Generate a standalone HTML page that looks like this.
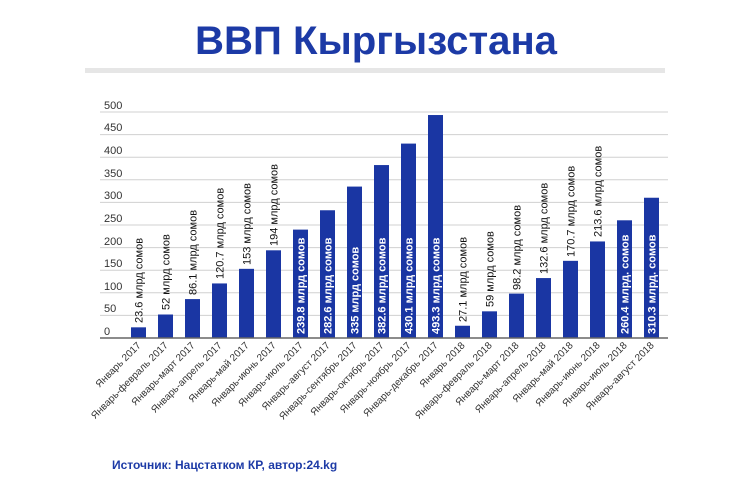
<!DOCTYPE html>
<html><head><meta charset="utf-8"><style>
html,body{margin:0;padding:0;background:#fff;}
svg{display:block;font-family:"Liberation Sans",Arial,sans-serif;}
</style></head><body>
<svg width="750" height="500" xmlns="http://www.w3.org/2000/svg">
<text x="376" y="54" text-anchor="middle" font-size="40" font-weight="bold" fill="#1c3aa6" textLength="362" lengthAdjust="spacingAndGlyphs">ВВП Кыргызстана</text>
<rect x="85" y="68" width="580" height="5" fill="#e6e6e6"/>
<g stroke="#d0d0d0" stroke-width="1">
<line x1="100" x2="668" y1="315.4" y2="315.4"/><line x1="100" x2="668" y1="292.8" y2="292.8"/>
<line x1="100" x2="668" y1="270.2" y2="270.2"/><line x1="100" x2="668" y1="247.6" y2="247.6"/>
<line x1="100" x2="668" y1="225" y2="225"/><line x1="100" x2="668" y1="202.4" y2="202.4"/>
<line x1="100" x2="668" y1="179.8" y2="179.8"/><line x1="100" x2="668" y1="157.2" y2="157.2"/>
<line x1="100" x2="668" y1="134.6" y2="134.6"/><line x1="100" x2="668" y1="112" y2="112"/>
</g>
<g font-size="11" fill="#333">
<text x="104" y="335">0</text><text x="104" y="312">50</text><text x="104" y="290">100</text>
<text x="104" y="267">150</text><text x="104" y="245">200</text><text x="104" y="222">250</text>
<text x="104" y="199">300</text><text x="104" y="177">350</text><text x="104" y="154">400</text>
<text x="104" y="131">450</text><text x="104" y="109">500</text>
</g>
<g fill="#1a36a3">
<rect x="131" y="327.33" width="15" height="10.67"/>
<rect x="158" y="314.5" width="15" height="23.5"/>
<rect x="185" y="299.08" width="15" height="38.92"/>
<rect x="212" y="283.44" width="15" height="54.56"/>
<rect x="239" y="268.84" width="15" height="69.16"/>
<rect x="266" y="250.31" width="15" height="87.69"/>
<rect x="293" y="229.61" width="15" height="108.39"/>
<rect x="320" y="210.26" width="15" height="127.74"/>
<rect x="347" y="186.58" width="15" height="151.42"/>
<rect x="374" y="165.06" width="15" height="172.94"/>
<rect x="401" y="143.59" width="15" height="194.41"/>
<rect x="428" y="115.03" width="15" height="222.97"/>
<rect x="455" y="325.75" width="15" height="12.25"/>
<rect x="482" y="311.33" width="15" height="26.67"/>
<rect x="509" y="293.61" width="15" height="44.39"/>
<rect x="536" y="278.06" width="15" height="59.94"/>
<rect x="563" y="260.84" width="15" height="77.16"/>
<rect x="590" y="241.45" width="15" height="96.55"/>
<rect x="617" y="220.3" width="15" height="117.7"/>
<rect x="644" y="197.74" width="15" height="140.26"/>
</g>
<g font-size="11" fill="#111">
<text transform="translate(142.5,323) rotate(-90)">23.6 млрд сомов</text>
<text transform="translate(169.5,310) rotate(-90)">52 млрд сомов</text>
<text transform="translate(196.5,295) rotate(-90)">86.1 млрд сомов</text>
<text transform="translate(223.5,279) rotate(-90)">120.7 млрд сомов</text>
<text transform="translate(250.5,265) rotate(-90)">153 млрд сомов</text>
<text transform="translate(277.5,246) rotate(-90)">194 млрд сомов</text>
<text transform="translate(466.5,322) rotate(-90)">27.1 млрд сомов</text>
<text transform="translate(493.5,307) rotate(-90)">59 млрд сомов</text>
<text transform="translate(520.5,290) rotate(-90)">98.2 млрд сомов</text>
<text transform="translate(547.5,274) rotate(-90)">132.6 млрд сомов</text>
<text transform="translate(574.5,257) rotate(-90)">170.7 млрд сомов</text>
<text transform="translate(601.5,237) rotate(-90)">213.6 млрд сомов</text>
</g>
<g font-size="11" font-weight="bold" fill="#fff">
<text transform="translate(304.5,334) rotate(-90)">239.8 млрд сомов</text>
<text transform="translate(331.5,334) rotate(-90)">282.6 млрд сомов</text>
<text transform="translate(358.5,334) rotate(-90)">335 млрд сомов</text>
<text transform="translate(385.5,334) rotate(-90)">382.6 млрд сомов</text>
<text transform="translate(412.5,334) rotate(-90)">430.1 млрд сомов</text>
<text transform="translate(439.5,334) rotate(-90)">493.3 млрд сомов</text>
<text transform="translate(628.5,334) rotate(-90)">260.4 млрд. сомов</text>
<text transform="translate(655.5,334) rotate(-90)">310.3 млрд. сомов</text>
</g>
<line x1="100" x2="668" y1="338" y2="338" stroke="#666" stroke-width="1.5"/>
<g font-size="10" fill="#333" text-anchor="end">
<text transform="translate(141.5,346) rotate(-45)">Январь 2017</text>
<text transform="translate(168.5,346) rotate(-45)">Январь-февраль 2017</text>
<text transform="translate(195.5,346) rotate(-45)">Январь-март 2017</text>
<text transform="translate(222.5,346) rotate(-45)">Январь-апрель 2017</text>
<text transform="translate(249.5,346) rotate(-45)">Январь-май 2017</text>
<text transform="translate(276.5,346) rotate(-45)">Январь-июнь 2017</text>
<text transform="translate(303.5,346) rotate(-45)">Январь-июль 2017</text>
<text transform="translate(330.5,346) rotate(-45)">Январь-август 2017</text>
<text transform="translate(357.5,346) rotate(-45)">Январь-сентябрь 2017</text>
<text transform="translate(384.5,346) rotate(-45)">Январь-октябрь 2017</text>
<text transform="translate(411.5,346) rotate(-45)">Январь-ноябрь 2017</text>
<text transform="translate(438.5,346) rotate(-45)">Январь-декабрь 2017</text>
<text transform="translate(465.5,346) rotate(-45)">Январь 2018</text>
<text transform="translate(492.5,346) rotate(-45)">Январь-февраль 2018</text>
<text transform="translate(519.5,346) rotate(-45)">Январь-март 2018</text>
<text transform="translate(546.5,346) rotate(-45)">Январь-апрель 2018</text>
<text transform="translate(573.5,346) rotate(-45)">Январь-май 2018</text>
<text transform="translate(600.5,346) rotate(-45)">Январь-июнь 2018</text>
<text transform="translate(627.5,346) rotate(-45)">Январь-июль 2018</text>
<text transform="translate(654.5,346) rotate(-45)">Январь-август 2018</text>
</g>
<text x="112" y="469" font-size="12" font-weight="bold" fill="#1c3aa6">Источник: Нацстатком КР, автор:24.kg</text>
</svg>
</body></html>
